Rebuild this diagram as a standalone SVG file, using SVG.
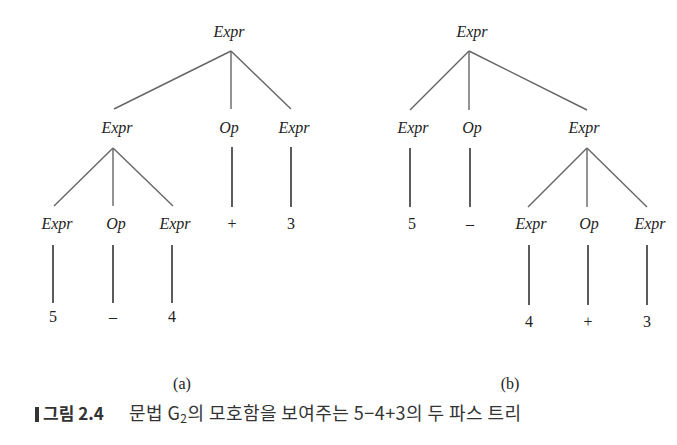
<svg xmlns="http://www.w3.org/2000/svg" width="677" height="445" viewBox="0 0 677 445">
<style>
.bg{fill:#ffffff}
.n{font-family:"Liberation Serif","Times New Roman",serif;font-style:italic;font-size:16px;fill:#222;text-anchor:middle}
.t{font-family:"Liberation Serif","Times New Roman",serif;font-size:16px;fill:#222;text-anchor:middle}
.d{stroke:#666;stroke-width:1.4;fill:none}
.v{stroke:#333;stroke-width:1.6;fill:none}
.cap{font-family:"Noto Sans CJK KR","Noto Sans",sans-serif;font-size:18px;fill:#333}
.capb{font-family:"Noto Sans CJK KR","Noto Sans",sans-serif;font-size:17px;font-weight:bold;fill:#333}
</style>
<rect class="bg" x="0" y="0" width="677" height="445"/>
<g id="connectors">
<line class="d" x1="231" y1="51" x2="114" y2="109"/>
<line class="d" x1="231" y1="51" x2="231" y2="109"/>
<line class="d" x1="231" y1="51" x2="291" y2="109"/>
<line class="d" x1="113" y1="148" x2="54" y2="206"/>
<line class="d" x1="113" y1="148" x2="113" y2="206"/>
<line class="d" x1="113" y1="148" x2="173" y2="206"/>
<line class="v" x1="232" y1="147" x2="232" y2="207"/>
<line class="v" x1="291" y1="147" x2="291" y2="207"/>
<line class="v" x1="53" y1="245" x2="53" y2="303"/>
<line class="v" x1="113" y1="245" x2="113" y2="303"/>
<line class="v" x1="172" y1="245" x2="172" y2="303"/>
<line class="d" x1="469" y1="51" x2="410" y2="110"/>
<line class="d" x1="469" y1="51" x2="469" y2="110"/>
<line class="d" x1="469" y1="51" x2="587" y2="110"/>
<line class="v" x1="410" y1="148" x2="410" y2="207"/>
<line class="v" x1="470" y1="148" x2="470" y2="207"/>
<line class="d" x1="587" y1="148" x2="528" y2="207"/>
<line class="d" x1="587" y1="148" x2="587" y2="207"/>
<line class="d" x1="587" y1="148" x2="647" y2="207"/>
<line class="v" x1="529" y1="245" x2="529" y2="305"/>
<line class="v" x1="588" y1="245" x2="588" y2="305"/>
<line class="v" x1="647" y1="245" x2="647" y2="305"/>
</g>
<g id="tree-a">
<g id="a-root"><text class="n" x="229" y="37">Expr</text></g>
<g id="a-expr1"><text class="n" x="117" y="133">Expr</text></g>
<g id="a-op1"><text class="n" x="229" y="133">Op</text></g>
<g id="a-expr2"><text class="n" x="294" y="133">Expr</text></g>
<g id="a-expr3"><text class="n" x="57" y="229">Expr</text></g>
<g id="a-op2"><text class="n" x="116" y="229">Op</text></g>
<g id="a-expr4"><text class="n" x="175" y="229">Expr</text></g>
<g id="a-plus"><text class="t" x="232" y="229">+</text></g>
<g id="a-3"><text class="t" x="291" y="229">3</text></g>
<g id="a-5"><text class="t" x="53" y="322">5</text></g>
<g id="a-minus"><text class="t" x="113" y="322">–</text></g>
<g id="a-4"><text class="t" x="172" y="322">4</text></g>
<g id="a-label"><text class="t" x="182" y="389">(a)</text></g>
</g>
<g id="tree-b">
<g id="b-root"><text class="n" x="472" y="37">Expr</text></g>
<g id="b-expr1"><text class="n" x="413" y="133">Expr</text></g>
<g id="b-op1"><text class="n" x="472" y="133">Op</text></g>
<g id="b-expr2"><text class="n" x="584" y="133">Expr</text></g>
<g id="b-5"><text class="t" x="412" y="229">5</text></g>
<g id="b-minus"><text class="t" x="470" y="229">–</text></g>
<g id="b-expr3"><text class="n" x="531" y="229">Expr</text></g>
<g id="b-op2"><text class="n" x="589" y="229">Op</text></g>
<g id="b-expr4"><text class="n" x="650" y="229">Expr</text></g>
<g id="b-4"><text class="t" x="529" y="327">4</text></g>
<g id="b-plus"><text class="t" x="588" y="327">+</text></g>
<g id="b-3"><text class="t" x="647" y="327">3</text></g>
<g id="b-label"><text class="t" x="510" y="389">(b)</text></g>
</g>
<g id="caption">
<rect x="35" y="407" width="4" height="15" fill="#333"/>
<text class="capb" x="43" y="420">그림 2.4</text>
<text class="cap" x="129" y="420" textLength="392" lengthAdjust="spacing">문법 G<tspan font-size="12" dy="3">2</tspan><tspan dy="-3">의 모호함을 보여주는 5−4+3의 두 파스 트리</tspan></text>
</g>
</svg>
